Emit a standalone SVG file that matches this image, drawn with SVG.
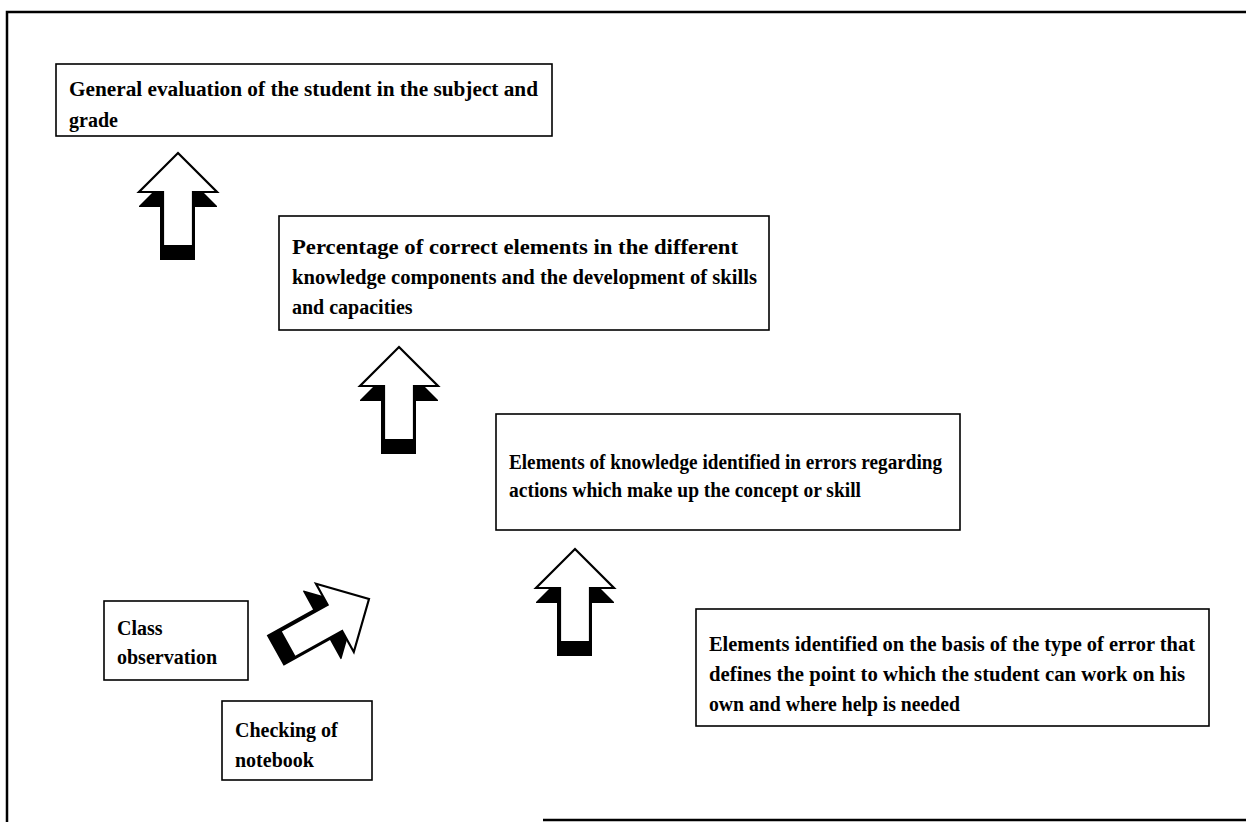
<svg xmlns="http://www.w3.org/2000/svg" width="1246" height="822" viewBox="0 0 1246 822">
<style>
.box{fill:#fff;stroke:#000;stroke-width:1.6}
.t{font-family:"Liberation Serif","Times New Roman",serif;font-weight:bold;font-size:20px;fill:#000}
.front{fill:#fff;stroke:#000;stroke-width:2.2;stroke-linejoin:miter}
.shadow{fill:#000}
.frame{fill:none;stroke:#000;stroke-width:2.5}
</style>
<defs>
<g id="arrow">
<polygon class="shadow" points="0,14 39,53 39,54 17,54 17,107 -18,107 -18,54 -39,54 -39,53"/>
<polygon class="front" points="0,0 39,39 15,39 15,93 -15,93 -15,39 -39,39"/>
</g>
</defs>
<rect width="1246" height="822" fill="#fff"/>
<g id="frame">
<polyline class="frame" points="7,822 7,12 1246,12"/>
<line class="frame" x1="543" y1="820" x2="1246" y2="820"/>
</g>
<g id="connectors">
<use href="#arrow" transform="translate(178,153)"/>
<use href="#arrow" transform="translate(399,347)"/>
<use href="#arrow" transform="translate(575,549)"/>
<use href="#arrow" transform="translate(369,599) rotate(61)"/>
</g>
<g id="node-general">
<rect class="box" x="56" y="64" width="496" height="72"/>
<text class="t" x="69" y="96" textLength="469" lengthAdjust="spacingAndGlyphs">General evaluation of the student in the subject and</text>
<text class="t" x="69" y="127">grade</text>
</g>
<g id="node-percentage">
<rect class="box" x="279" y="216" width="490" height="114"/>
<text class="t" x="292" y="254" textLength="446" lengthAdjust="spacingAndGlyphs">Percentage of correct elements in the different</text>
<text class="t" x="292" y="284" textLength="465" lengthAdjust="spacingAndGlyphs">knowledge components and the development of skills</text>
<text class="t" x="292" y="314">and capacities</text>
</g>
<g id="node-elements-knowledge">
<rect class="box" x="496" y="414" width="464" height="116"/>
<text class="t" x="509" y="469" textLength="433" lengthAdjust="spacingAndGlyphs">Elements of knowledge identified in errors regarding</text>
<text class="t" x="509" y="497" textLength="352" lengthAdjust="spacingAndGlyphs">actions which make up the concept or skill</text>
</g>
<g id="node-class-observation">
<rect class="box" x="104" y="601" width="144" height="79"/>
<text class="t" x="117" y="635">Class</text>
<text class="t" x="117" y="664">observation</text>
</g>
<g id="node-checking-notebook">
<rect class="box" x="222" y="701" width="150" height="79"/>
<text class="t" x="235" y="737">Checking of</text>
<text class="t" x="235" y="767">notebook</text>
</g>
<g id="node-elements-error">
<rect class="box" x="696" y="609" width="513" height="117"/>
<text class="t" x="709" y="651" textLength="486" lengthAdjust="spacingAndGlyphs">Elements identified on the basis of the type of error that</text>
<text class="t" x="709" y="681" textLength="476" lengthAdjust="spacingAndGlyphs">defines the point to which the student can work on his</text>
<text class="t" x="709" y="711" textLength="251" lengthAdjust="spacingAndGlyphs">own and where help is needed</text>
</g>
</svg>
